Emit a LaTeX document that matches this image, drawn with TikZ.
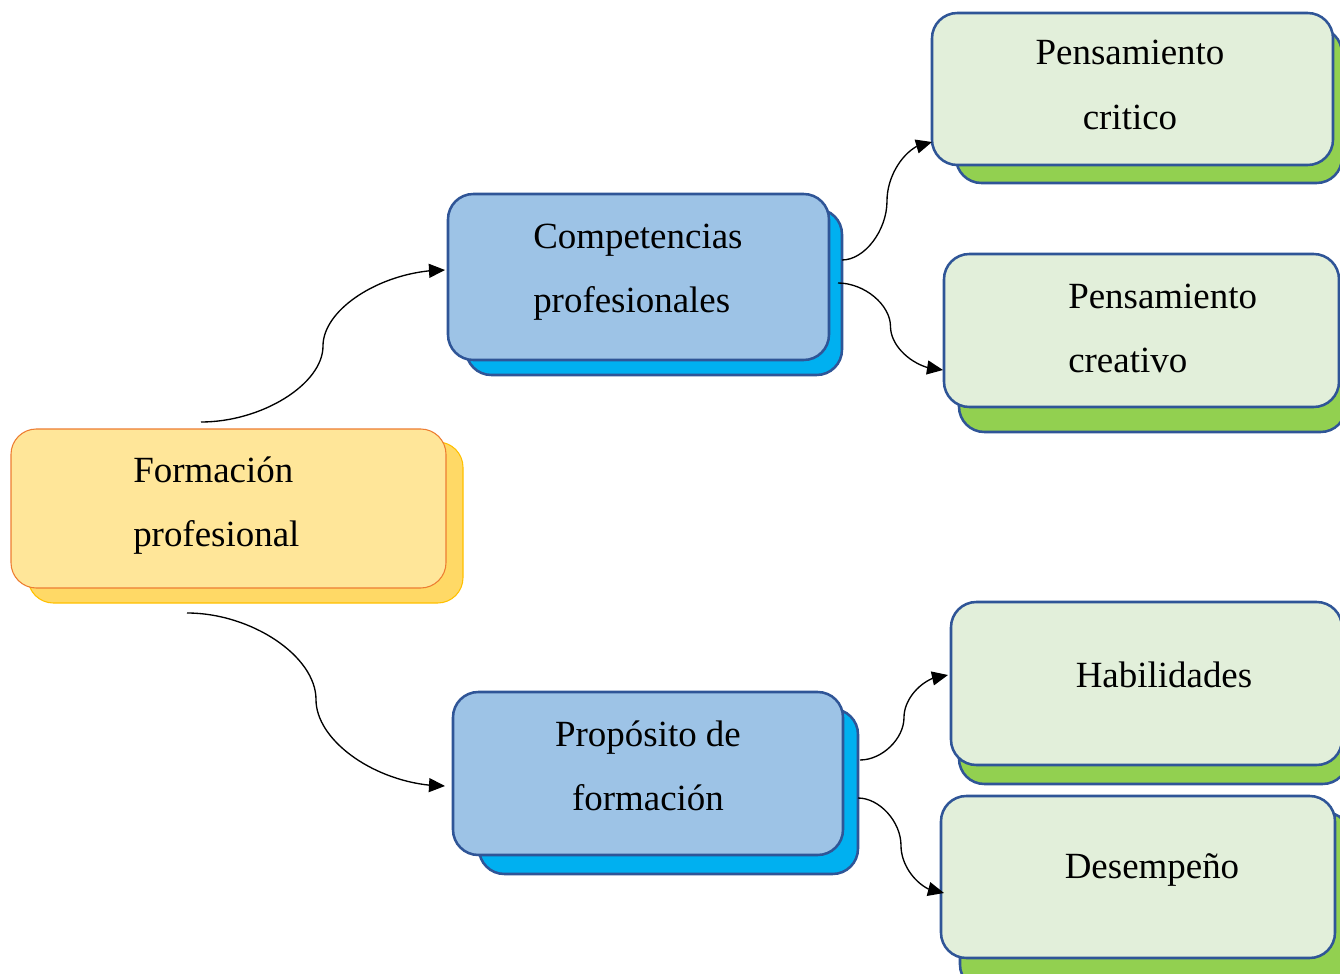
\documentclass[tikz,border=0pt]{standalone}
\usepackage{fontspec}
\setmainfont{Liberation Serif}
\usetikzlibrary{fit,calc,arrows.meta,bending}
\definecolor{yfront}{HTML}{FFE699}
\definecolor{yline}{HTML}{ED7D31}
\definecolor{yshad}{HTML}{FFD966}
\definecolor{yshline}{HTML}{FFC000}
\definecolor{bfront}{HTML}{9DC3E6}
\definecolor{bline}{HTML}{2F5597}
\definecolor{bshad}{HTML}{00B0F0}
\definecolor{gfront}{HTML}{E2EFDA}
\definecolor{gshad}{HTML}{92D050}
\tikzset{
  anybox/.style={inner sep=0pt, rounded corners=19pt},
  yfrontbox/.style={anybox, fill=yfront, draw=yline, line width=0.8pt},
  yshadbox/.style={anybox, fill=yshad, draw=yshline, line width=0.8pt},
  bfrontbox/.style={anybox, fill=bfront, draw=bline, line width=1.9pt},
  bshadbox/.style={anybox, fill=bshad, draw=bline, line width=1.9pt},
  gfrontbox/.style={anybox, fill=gfront, draw=bline, line width=1.9pt},
  gshadbox/.style={anybox, fill=gshad, draw=bline, line width=1.9pt},
  txt/.style={inner sep=0pt, font=\fontsize{27.7}{48}\selectfont},
  conn/.style={line width=1pt, -{Triangle[length=12pt,width=10.5pt,flex]}},
  wcurve/.style={to path={
    let \p1=(\tikztostart), \p2=(\tikztotarget) in
    .. controls ({0.75*\x1+0.25*\x2},\y1) and ({0.5*\x1+0.5*\x2},{0.75*\y1+0.25*\y2})
    .. ({0.5*\x1+0.5*\x2},{0.5*\y1+0.5*\y2})
    .. controls ({0.5*\x1+0.5*\x2},{0.25*\y1+0.75*\y2}) and ({0.25*\x1+0.75*\x2},\y2)
    .. (\tikztotarget)}},
}
\begin{document}
\begin{tikzpicture}[x=0.75pt,y=-0.75pt]
\fill[white] (0,0) rectangle (1340,974);
\clip (0,0) rectangle (1340,974);
% shadows
\node[yshadbox, fit={(28,442) (463,603)}] (fps) {};
\node[bshadbox, fit={(466,209) (842,375)}] (cps) {};
\node[bshadbox, fit={(479,709) (858,874)}] (pps) {};
\node[gshadbox, fit={(956,28) (1342,183)}] (pcs) {};
\node[gshadbox, fit={(959,270) (1346,432)}] (pvs) {};
\node[gshadbox, fit={(959,620) (1348,784)}] (phs) {};
\node[gshadbox, fit={(960,812) (1350,990)}] (pds) {};
% fronts
\node[yfrontbox, fit={(11,429) (446,588)}] (fp) {};
\node[bfrontbox, fit={(448,194) (829,360)}] (cp) {};
\node[bfrontbox, fit={(453,692) (843,855)}] (pp) {};
\node[gfrontbox, fit={(932,13) (1333,165)}] (pc) {};
\node[gfrontbox, fit={(944,254) (1339,407)}] (pv) {};
\node[gfrontbox, fit={(951,602) (1342,765)}] (ph) {};
\node[gfrontbox, fit={(941,796) (1335,958)}] (pd) {};
% texts
\node[txt, anchor=base west] (tfp) at (133,482) {\begin{tabular}[t]{@{}l@{}}Formación\\profesional\end{tabular}};
\node[txt, anchor=base west] (tcp) at (533,248) {\begin{tabular}[t]{@{}l@{}}Competencias\\profesionales\end{tabular}};
\node[txt, anchor=base] (tpp) at (648,746) {\begin{tabular}[t]{@{}c@{}}Propósito de\\formación\end{tabular}};
\node[txt, anchor=base] (tpc) at (1130,65) {\begin{tabular}[t]{@{}c@{}}Pensamiento\\critico\end{tabular}};
\node[txt, anchor=base west] (tpv) at (1068,308) {\begin{tabular}[t]{@{}l@{}}Pensamiento\\creativo\end{tabular}};
\node[txt, anchor=base] (tph) at (1164,687) {Habilidades};
\node[txt, anchor=base] (tpd) at (1152,878) {Desempeño};
% connector ends
\coordinate (s1) at (201,422);
\coordinate (e1) at (445,270);
\coordinate (s2) at (187,613);
\coordinate (e2) at (445,786);
\coordinate (s3) at (842,260);
\coordinate (e3) at (932,142);
\coordinate (s4) at (838,283);
\coordinate (e4) at (943,370);
\coordinate (s5) at (860,760);
\coordinate (e5) at (948,675);
\coordinate (s6) at (858,798);
\coordinate (e6) at (944,893);
\draw[conn] (s1) to[wcurve] (e1);
\draw[conn] (s2) to[wcurve] (e2);
\draw[conn] (s3) to[wcurve] (e3);
\draw[conn] (s4) to[wcurve] (e4);
\draw[conn] (s5) to[wcurve] (e5);
\draw[conn] (s6) to[wcurve] (e6);
\end{tikzpicture}
\end{document}
